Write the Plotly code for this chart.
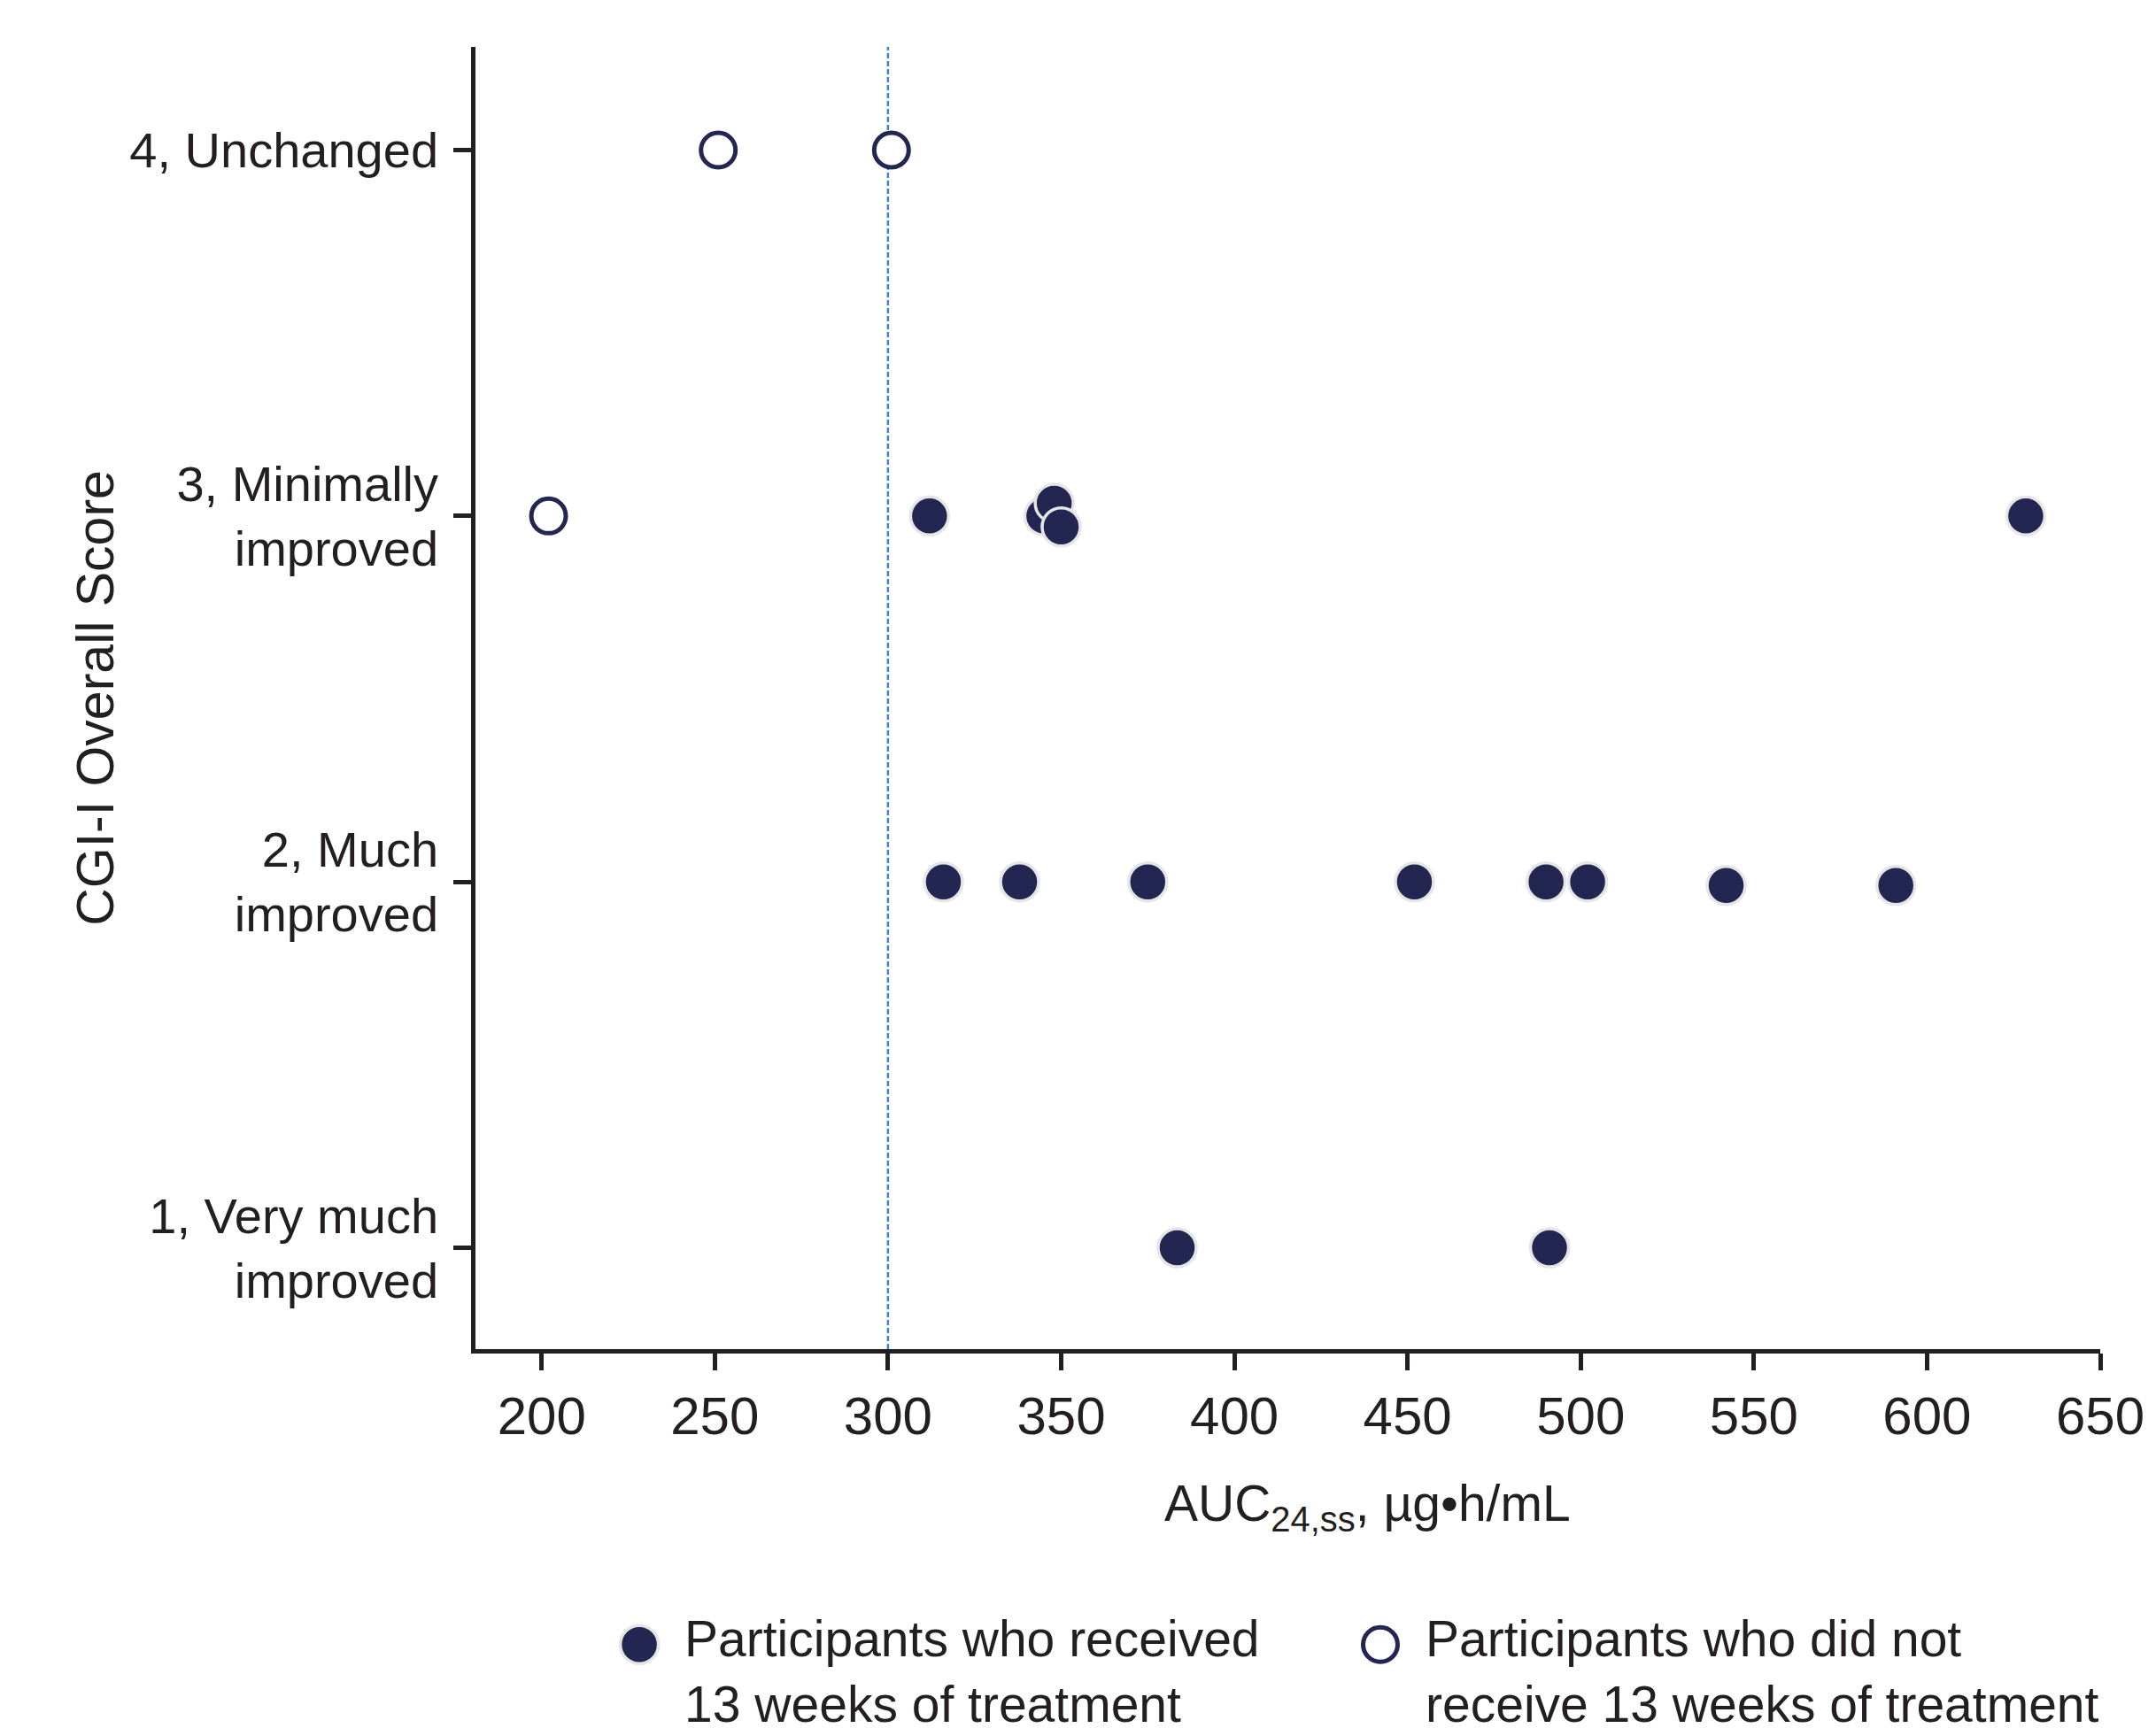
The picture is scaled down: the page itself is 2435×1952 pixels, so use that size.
import plotly.graph_objects as go

# ---------------- data ----------------
score_levels = [1, 2, 3, 4]
score_labels = [
    "1, Very much<br>improved",
    "2, Much<br>improved",
    "3, Minimally<br>improved",
    "4, Unchanged",
]
auc_ticks = [200, 250, 300, 350, 400, 450, 500, 550, 600, 650]

# Participants who received 13 weeks of treatment (filled)
treated_auc = [312, 345, 348, 350, 628.5, 316, 338, 375, 452, 490, 502, 542, 591, 383.5, 491]
treated_score = [3, 3, 3.035, 2.97, 3, 2, 2, 2, 2, 2, 2, 1.99, 1.99, 1, 1]

# Participants who did not receive 13 weeks of treatment (open)
untreated_auc = [251, 301, 202]
untreated_score = [4, 4, 3]

threshold_auc = 300

treated_name = "Participants who received<br>13 weeks of treatment"
untreated_name = "Participants who did not<br>receive 13 weeks of treatment"
x_title = "AUC<sub>24,ss</sub>, µg•h/mL"
y_title = "CGI-I Overall Score"

# ---------------- style ----------------
NAVY = "#222651"
INK = "#231f20"
FONT = "Arial, 'Liberation Sans', Helvetica, sans-serif"

fig = go.Figure()
fig.add_trace(go.Scatter(
    x=treated_auc, y=treated_score, mode="markers", name=treated_name,
    marker=dict(size=43, color=NAVY, line=dict(color="#e6e6e6", width=3.5)),
    cliponaxis=False, legend="legend",
))
fig.add_trace(go.Scatter(
    x=untreated_auc, y=untreated_score, mode="markers", name=untreated_name,
    marker=dict(size=39, color="white", line=dict(color=NAVY, width=5)),
    cliponaxis=False, legend="legend2",
))

fig.add_shape(type="line", xref="x", yref="paper", x0=threshold_auc, x1=threshold_auc,
              y0=0, y1=1, line=dict(color="#3a87c9", width=2.5, dash="6px,3px"), layer="below")

fig.add_annotation(text=x_title, xref="paper", yref="paper", x=0.5488, y=-0.095,
                   xanchor="center", yanchor="top", showarrow=False,
                   font=dict(size=57, color=INK, family=FONT))

legend_common = dict(orientation="h", xref="container", yref="container",
                     xanchor="left", yanchor="top", y=0.0752,
                     font=dict(size=57, color=INK), valign="top", itemwidth=92,
                     bgcolor="rgba(0,0,0,0)", borderwidth=0)

fig.update_layout(
    width=2435, height=1952,
    margin=dict(l=537, r=63, t=53, b=428, pad=0, autoexpand=False),
    paper_bgcolor="white", plot_bgcolor="white",
    font=dict(family=FONT, color=INK, size=57),
    showlegend=True,
    legend=dict(x=0.2756, **legend_common),
    legend2=dict(x=0.6193, **legend_common),
    xaxis=dict(range=[180.9, 650], tickmode="array", tickvals=auc_ticks,
               ticks="outside", ticklen=19, tickwidth=4.5, tickcolor=INK,
               showline=True, linewidth=4.5, linecolor=INK,
               showgrid=False, zeroline=False, tickfont=dict(size=60, color=INK)),
    yaxis=dict(range=[0.723, 4.282], tickmode="array", tickvals=score_levels, ticktext=score_labels,
               ticks="outside", ticklen=20, tickwidth=4.5, tickcolor=INK,
               showline=True, linewidth=4.5, linecolor=INK, ticklabelstandoff=6,
               showgrid=False, zeroline=False, tickfont=dict(size=56, color=INK),
               title=dict(text=y_title, font=dict(size=59, color=INK), standoff=0)),
)

post = """
document.body.style.margin = '0';
var gd = document.getElementById('{plot_id}');
function enlargeLegendSymbols(){
  var items = gd.querySelectorAll('.legend .traces, .legend2 .traces');
  items.forEach(function(t){
    var d = t.__data__; if(!d || !d[0] || !d[0].trace) return;
    var r = d[0].trace.marker.size / 2;
    var dy = 9;
    t.querySelectorAll('.legendpoints path.scatterpts').forEach(function(p){
      p.setAttribute('d','M'+r+','+dy+'A'+r+','+r+' 0 1,1 0,'+(dy-r)+'A'+r+','+r+' 0 0,1 '+r+','+dy+'Z');
    });
  });
}
enlargeLegendSymbols();
gd.on('plotly_afterplot', enlargeLegendSymbols);
"""

fig.write_html("out.html", post_script=post, config={"displayModeBar": False})
